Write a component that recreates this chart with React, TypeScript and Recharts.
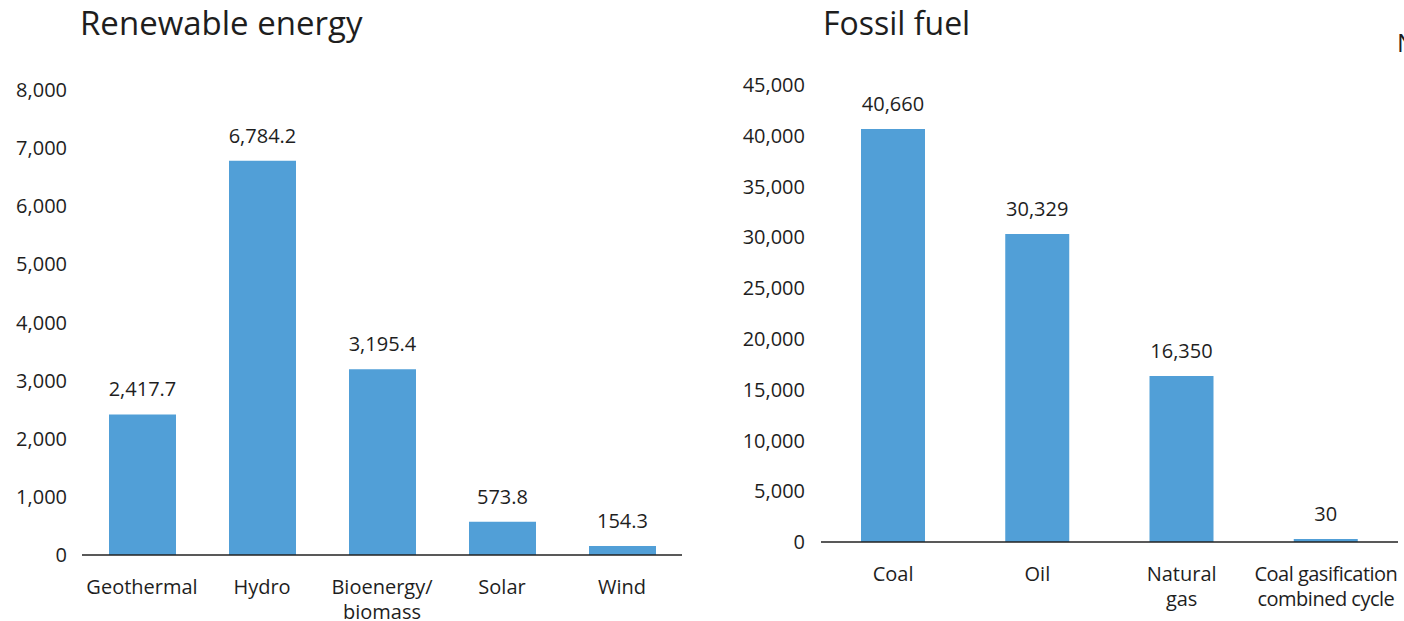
import React from 'react';
import { BarChart, Bar, XAxis, YAxis, LabelList } from 'recharts';

// Installed capacity by source
const renewableCategories = ['Geothermal', 'Hydro', 'Bioenergy/\nbiomass', 'Solar', 'Wind'];
const renewableValues = [2417.7, 6784.2, 3195.4, 573.8, 154.3];
const renewableLabels = ['2,417.7', '6,784.2', '3,195.4', '573.8', '154.3'];
const renewableTicks = [0, 1000, 2000, 3000, 4000, 5000, 6000, 7000, 8000];

const fossilCategories = ['Coal', 'Oil', 'Natural\ngas', 'Coal gasification\ncombined cycle'];
const fossilValues = [40660, 30329, 16350, 30];
const fossilLabels = ['40,660', '30,329', '16,350', '30'];
const fossilTicks = [0, 5000, 10000, 15000, 20000, 25000, 30000, 35000, 40000, 45000];

const FONT = '"Open Sans", "Noto Sans", sans-serif';
const TEXT = '#1e1e1e';
const BAR = '#519fd7';

const renewableData = renewableCategories.map((name, i) => ({
  name,
  value: renewableValues[i],
  label: renewableLabels[i],
}));
const fossilData = fossilCategories.map((name, i) => ({
  name,
  value: fossilValues[i],
  label: fossilLabels[i],
}));

const fmt = (v: number) => v.toLocaleString('en-US');

// Multi-line category label under the axis; long lines are set a touch tighter
const CategoryTick = (props: any) => {
  const { x, y, payload } = props;
  const lines = String(payload.value).split('\n');
  return (
    <g transform={`translate(${x},${y})`}>
      <text textAnchor="middle" fontFamily={FONT} fontSize={20} fill={TEXT}>
        {lines.map((line, i) => (
          <tspan
            key={i}
            x={0}
            y={39 + i * 24.5}
            letterSpacing={line.length > 12 ? -0.5 : 0}
          >
            {line}
          </tspan>
        ))}
      </text>
    </g>
  );
};

const titleStyle: React.CSSProperties = {
  position: 'absolute',
  top: 3,
  fontFamily: FONT,
  lineHeight: '40px',
  color: TEXT,
  whiteSpace: 'nowrap',
};

export default function App() {
  return (
    <div
      style={{
        position: 'fixed',
        left: 0,
        top: 0,
        width: 1404,
        height: 621,
        overflow: 'hidden',
        background: '#fff',
      }}
    >
      <div style={{ ...titleStyle, left: 80, fontSize: 33 }}>Renewable energy</div>
      <div style={{ ...titleStyle, left: 823, fontSize: 32 }}>Fossil fuel</div>
      <div
        style={{
          position: 'absolute',
          left: 1397,
          top: 27,
          fontFamily: FONT,
          fontSize: 25,
          lineHeight: '30px',
          color: TEXT,
          whiteSpace: 'nowrap',
        }}
      >
        N
      </div>

      <div style={{ position: 'absolute', left: 8, top: 8 }}>
        <BarChart
          width={700}
          height={613}
          data={renewableData}
          margin={{ top: 82, right: 26, bottom: 0, left: 0 }}
        >
          <XAxis
            dataKey="name"
            interval={0}
            tickLine={false}
            tickSize={0}
            tickMargin={0}
            height={66}
            axisLine={{ stroke: '#222', strokeWidth: 1.5 }}
            tick={<CategoryTick />}
          />
          <YAxis
            width={74}
            domain={[0, 8000]}
            ticks={renewableTicks}
            tickFormatter={fmt}
            axisLine={false}
            tickLine={false}
            tickSize={0}
            tickMargin={15}
            tick={{ fontFamily: FONT, fontSize: 20, fill: TEXT }}
          />
          <Bar dataKey="value" fill={BAR} barSize={67} isAnimationActive={false}>
            <LabelList
              dataKey="label"
              position="top"
              offset={18}
              fontFamily={FONT}
              fontSize={20}
              fill={TEXT}
            />
          </Bar>
        </BarChart>
      </div>

      <div style={{ position: 'absolute', left: 708, top: 8 }}>
        <BarChart
          width={696}
          height={613}
          data={fossilData}
          margin={{ top: 77, right: 6, bottom: 0, left: 0 }}
        >
          <XAxis
            dataKey="name"
            interval={0}
            tickLine={false}
            tickSize={0}
            tickMargin={0}
            height={79}
            axisLine={{ stroke: '#222', strokeWidth: 1.5 }}
            tick={<CategoryTick />}
          />
          <YAxis
            width={113}
            domain={[0, 45000]}
            ticks={fossilTicks}
            tickFormatter={fmt}
            axisLine={false}
            tickLine={false}
            tickSize={0}
            tickMargin={16}
            tick={{ fontFamily: FONT, fontSize: 20, fill: TEXT }}
          />
          <Bar
            dataKey="value"
            fill={BAR}
            barSize={64}
            minPointSize={3}
            isAnimationActive={false}
          >
            <LabelList
              dataKey="label"
              position="top"
              offset={18}
              fontFamily={FONT}
              fontSize={20}
              fill={TEXT}
            />
          </Bar>
        </BarChart>
      </div>
    </div>
  );
}
